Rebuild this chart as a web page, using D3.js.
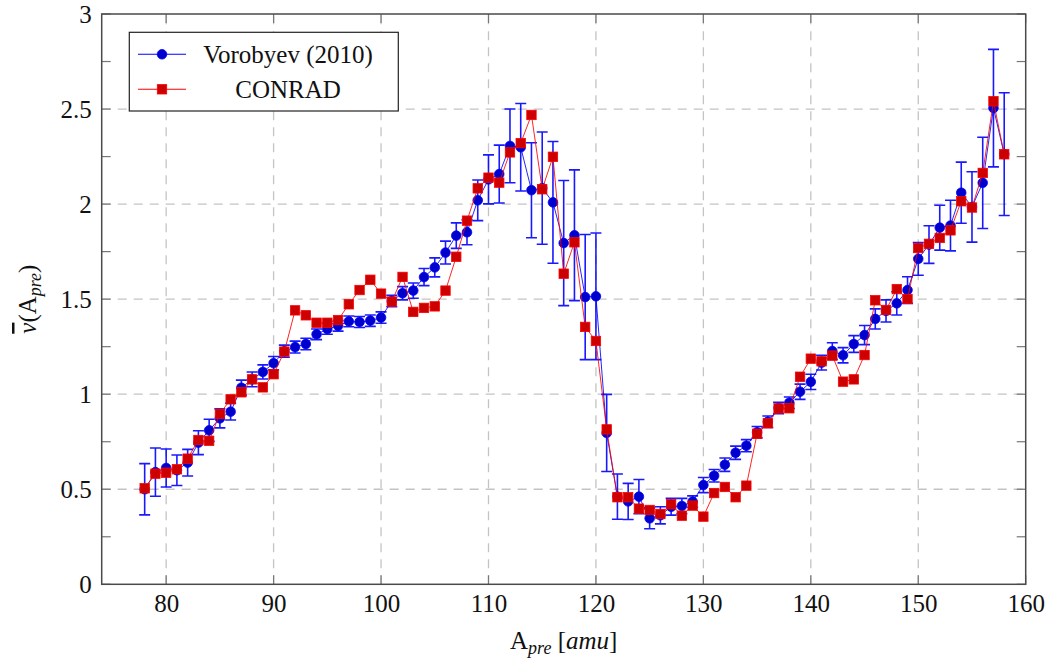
<!DOCTYPE html>
<html>
<head>
<meta charset="utf-8">
<script src="https://cdn.jsdelivr.net/npm/d3@7"></script>
<style>
  html, body { margin: 0; padding: 0; background: #fff; }
  svg { display: block; }
  text { font-family: "Liberation Serif", "DejaVu Serif", serif; fill: #111; }
</style>
</head>
<body>
<svg id="chart" width="1051" height="660"></svg>
<script>
// Pre-neutron-emission fragment mass number A_pre [amu]
const masses = [
  78, 79, 80, 81, 82, 83, 84, 85, 86, 87, 88, 89, 90, 91, 92, 93, 94, 95, 96, 97,
  98, 99, 100, 101, 102, 103, 104, 105, 106, 107, 108, 109, 110, 111, 112, 113, 114, 115, 116, 117,
  118, 119, 120, 121, 122, 123, 124, 125, 126, 127, 128, 129, 130, 131, 132, 133, 134, 135, 136, 137,
  138, 139, 140, 141, 142, 143, 144, 145, 146, 147, 148, 149, 150, 151, 152, 153, 154, 155, 156, 157,
  158
];

// Vorobyev (2010): mean prompt neutron multiplicity and its uncertainty
const vorobyevNu = [
  0.500, 0.590, 0.612, 0.600, 0.640, 0.745, 0.810, 0.873, 0.908, 1.034, 1.078, 1.117, 1.163, 1.226, 1.248, 1.264, 1.315, 1.343, 1.360, 1.383,
  1.380, 1.387, 1.403, 1.490, 1.531, 1.545, 1.616, 1.667, 1.745, 1.834, 1.852, 2.020, 2.130, 2.158, 2.306, 2.299, 2.073, 2.084, 2.009, 1.795,
  1.836, 1.511, 1.515, 0.796, 0.461, 0.436, 0.461, 0.347, 0.363, 0.408, 0.412, 0.435, 0.522, 0.571, 0.629, 0.692, 0.729, 0.800, 0.855, 0.927,
  0.955, 1.013, 1.065, 1.166, 1.227, 1.205, 1.264, 1.311, 1.396, 1.438, 1.478, 1.548, 1.712, 1.787, 1.876, 1.887, 2.060, 1.985, 2.112, 2.505,
  2.263
];
const vorobyevErr = [
  0.135, 0.127, 0.100, 0.080, 0.070, 0.063, 0.058, 0.050, 0.044, 0.040, 0.039, 0.037, 0.035, 0.032, 0.031, 0.030, 0.028, 0.028, 0.028, 0.028,
  0.029, 0.030, 0.030, 0.030, 0.035, 0.040, 0.045, 0.050, 0.060, 0.067, 0.066, 0.107, 0.129, 0.152, 0.194, 0.230, 0.250, 0.295, 0.320, 0.329,
  0.344, 0.329, 0.333, 0.203, 0.119, 0.095, 0.090, 0.055, 0.045, 0.044, 0.040, 0.030, 0.040, 0.033, 0.035, 0.035, 0.032, 0.030, 0.030, 0.030,
  0.030, 0.040, 0.040, 0.039, 0.044, 0.040, 0.044, 0.050, 0.053, 0.058, 0.061, 0.070, 0.086, 0.099, 0.118, 0.133, 0.161, 0.185, 0.240, 0.309,
  0.323
];

// CONRAD calculation
const conradNu = [
  0.505, 0.582, 0.587, 0.605, 0.661, 0.759, 0.755, 0.897, 0.973, 1.010, 1.078, 1.036, 1.105, 1.224, 1.441, 1.415, 1.376, 1.376, 1.390, 1.473,
  1.548, 1.602, 1.529, 1.487, 1.617, 1.433, 1.454, 1.462, 1.545, 1.723, 1.913, 2.083, 2.139, 2.113, 2.272, 2.321, 2.469, 2.078, 2.249, 1.634,
  1.799, 1.354, 1.280, 0.815, 0.458, 0.458, 0.398, 0.391, 0.370, 0.421, 0.361, 0.414, 0.356, 0.480, 0.512, 0.458, 0.519, 0.792, 0.847, 0.925,
  0.926, 1.092, 1.187, 1.173, 1.203, 1.066, 1.078, 1.206, 1.494, 1.443, 1.553, 1.501, 1.769, 1.791, 1.822, 1.862, 2.015, 1.982, 2.164, 2.541,
  2.262
];

const xTicks = [80, 90, 100, 110, 120, 130, 140, 150, 160];
const yTicks = [0, 0.5, 1, 1.5, 2, 2.5, 3];
const yMinorTicks = [0.25, 0.75, 1.25, 1.75, 2.25, 2.75];
const seriesNames = ["Vorobyev (2010)", "CONRAD"];

const plot = { left: 101.7, right: 1025.7, top: 14, bottom: 584.3 };
const BLUE = "#0000ff", BLUE_FILL = "#0000cc";
const RED = "#ff0000", RED_FILL = "#cc0000";
const FS = 25;
const SERIF = '"Liberation Serif", "DejaVu Serif", serif';

const svg = d3.select("#chart");
const x = d3.scaleLinear().domain([74, 160]).range([plot.left, plot.right]);
const y = d3.scaleLinear().domain([0, 3]).range([plot.bottom, plot.top]);

// Dashed major grid
const grid = svg.append("g").attr("stroke", "#c4c4c4").attr("stroke-width", 1.3)
  .attr("stroke-dasharray", "9,7").attr("fill", "none");
grid.selectAll(".gx").data(xTicks.filter(d => d < 160)).join("line")
  .attr("x1", d => x(d)).attr("x2", d => x(d)).attr("y1", plot.bottom).attr("y2", plot.top);
grid.selectAll(".gy").data(yTicks.filter(d => d > 0 && d < 3)).join("line")
  .attr("y1", d => y(d)).attr("y2", d => y(d)).attr("x1", plot.left).attr("x2", plot.right);

// Inward ticks on every side
const tickLen = 9;
const ticks = svg.append("g").attr("stroke", "#777").attr("stroke-width", 1.2);
ticks.selectAll(".ty").data(yTicks.concat(yMinorTicks)).join("line")
  .attr("x1", plot.left).attr("x2", plot.left + tickLen).attr("y1", d => y(d)).attr("y2", d => y(d));
ticks.selectAll(".tyr").data(yTicks.concat(yMinorTicks)).join("line")
  .attr("x1", plot.right).attr("x2", plot.right - tickLen).attr("y1", d => y(d)).attr("y2", d => y(d));
ticks.selectAll(".tx").data(xTicks).join("line")
  .attr("y1", plot.bottom).attr("y2", plot.bottom - tickLen).attr("x1", d => x(d)).attr("x2", d => x(d));
ticks.selectAll(".txt").data(xTicks).join("line")
  .attr("y1", plot.top).attr("y2", plot.top + tickLen).attr("x1", d => x(d)).attr("x2", d => x(d));

// Axes: labels only, the frame is drawn separately
const xAxis = d3.axisBottom(x).tickValues(xTicks).tickSize(0).tickPadding(10).tickFormat(d3.format("d"));
const yAxis = d3.axisLeft(y).tickValues(yTicks).tickSize(0).tickPadding(10).tickFormat(d => String(d));
const gx = svg.append("g").attr("transform", `translate(0,${plot.bottom})`).call(xAxis);
const gy = svg.append("g").attr("transform", `translate(${plot.left},0)`).call(yAxis);
[gx, gy].forEach(g => {
  g.attr("font-family", SERIF).attr("font-size", FS);
  g.select(".domain").remove();
  g.selectAll("text").attr("font-family", SERIF).style("font-family", SERIF)
    .style("font-size", FS + "px").attr("fill", "#111");
});
gx.selectAll("text").attr("dy", "0.72em");
gy.selectAll("text").attr("dy", "0.33em");

// Frame
svg.append("rect").attr("x", plot.left).attr("y", plot.top)
  .attr("width", plot.right - plot.left).attr("height", plot.bottom - plot.top)
  .attr("fill", "none").attr("stroke", "#4a4a4a").attr("stroke-width", 1.5);

const vData = masses.map((m, i) => ({ m, v: vorobyevNu[i], e: vorobyevErr[i] }));
const cData = masses.map((m, i) => ({ m, v: conradNu[i] }));

// Vorobyev series: line, error bars, circle marks
const line = d3.line().x(d => x(d.m)).y(d => y(d.v));
const gv = svg.append("g");
gv.append("path").datum(vData).attr("d", line).attr("fill", "none")
  .attr("stroke", BLUE).attr("stroke-width", 1).attr("stroke-opacity", 0.85);
const capW = 5.5;
const eb = gv.append("g").attr("stroke", BLUE).attr("stroke-width", 1.6).attr("stroke-opacity", 0.9);
eb.selectAll(".eb").data(vData).join("path")
  .attr("d", d => {
    const cx = x(d.m), y1 = y(d.v + d.e), y0 = y(d.v - d.e);
    return `M${cx - capW},${y1}H${cx + capW}M${cx},${y1}V${y0}M${cx - capW},${y0}H${cx + capW}`;
  });
gv.selectAll("circle").data(vData).join("circle")
  .attr("cx", d => x(d.m)).attr("cy", d => y(d.v)).attr("r", 4.8)
  .attr("fill", BLUE_FILL).attr("stroke", BLUE).attr("stroke-width", 0.8);

// CONRAD series: line and square marks
const gc = svg.append("g");
gc.append("path").datum(cData).attr("d", line).attr("fill", "none")
  .attr("stroke", RED).attr("stroke-width", 1).attr("stroke-opacity", 0.85);
const sq = 9.4;
gc.selectAll("rect").data(cData).join("rect")
  .attr("x", d => x(d.m) - sq / 2).attr("y", d => y(d.v) - sq / 2)
  .attr("width", sq).attr("height", sq)
  .attr("fill", RED_FILL).attr("stroke", RED).attr("stroke-width", 0.8);

// Legend
const lg = svg.append("g");
lg.append("rect").attr("x", 129.3).attr("y", 32.3).attr("width", 269).attr("height", 78.7)
  .attr("fill", "#fff").attr("stroke", "#222").attr("stroke-width", 1.2);
const rows = [54.3, 89.3];
seriesNames.forEach((name, i) => {
  const ry = rows[i];
  lg.append("line").attr("x1", 138).attr("x2", 186).attr("y1", ry).attr("y2", ry)
    .attr("stroke", i === 0 ? BLUE : RED).attr("stroke-width", 1.1);
  if (i === 0) {
    lg.append("circle").attr("cx", 162).attr("cy", ry).attr("r", 4.8)
      .attr("fill", BLUE_FILL).attr("stroke", BLUE).attr("stroke-width", 0.8);
  } else {
    lg.append("rect").attr("x", 162 - sq / 2).attr("y", ry - sq / 2).attr("width", sq).attr("height", sq)
      .attr("fill", RED_FILL).attr("stroke", RED).attr("stroke-width", 0.8);
  }
  lg.append("text").attr("x", 288).attr("y", ry).attr("dy", "0.35em")
    .attr("text-anchor", "middle").style("font-size", FS + "px").text(name);
});

// Axis titles
const xl = svg.append("text").attr("x", (plot.left + plot.right) / 2).attr("y", 649)
  .attr("text-anchor", "middle").style("font-size", FS + "px");
xl.append("tspan").text("A");
xl.append("tspan").attr("font-style", "italic").attr("font-size", "18px").attr("dy", 5).text("pre");
xl.append("tspan").attr("dy", -5).text(" [");
xl.append("tspan").attr("font-style", "italic").text("amu");
xl.append("tspan").text("]");

const yl = svg.append("text")
  .attr("transform", `translate(36,${(plot.top + plot.bottom) / 2}) rotate(-90)`)
  .attr("text-anchor", "middle").style("font-size", FS + "px");
yl.append("tspan").attr("font-style", "italic").style("text-decoration", "overline").text("\u03BD");
yl.append("tspan").text("(A");
yl.append("tspan").attr("font-style", "italic").attr("font-size", "18px").attr("dy", 5).text("pre");
yl.append("tspan").attr("dy", -5).text(")");
</script>
</body>
</html>
